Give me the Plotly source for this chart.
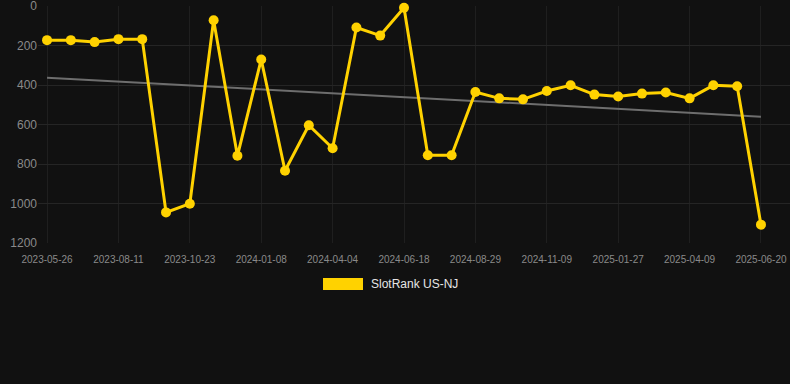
import plotly.graph_objects as go

dates = [
    "2023-05-26", "2023-06-21", "2023-07-16", "2023-08-11", "2023-09-04", "2023-09-28",
    "2023-10-23", "2023-11-18", "2023-12-13", "2024-01-08", "2024-02-06", "2024-03-06",
    "2024-04-04", "2024-04-29", "2024-05-24", "2024-06-18", "2024-07-12", "2024-08-05",
    "2024-08-29", "2024-09-22", "2024-10-16", "2024-11-09", "2024-12-05", "2024-12-31",
    "2025-01-27", "2025-02-20", "2025-03-16", "2025-04-09", "2025-05-03", "2025-05-27",
    "2025-06-20",
]
ranks = [
    172, 172, 182, 167, 167, 1045, 1001, 71, 758, 270, 834, 603, 720, 108, 149, 8,
    755, 755, 435, 467, 472, 430, 401, 448, 458, 443, 437, 467, 401, 406, 1107,
]
tick_labels = dates[::3]
trend_x = [dates[0], dates[-1]]
trend_y = [362, 560]
y_ticks = [0, 200, 400, 600, 800, 1000, 1200]
series_name = "SlotRank US-NJ"

YELLOW = "#FFD200"
BG = "#111111"

fig = go.Figure()
fig.add_trace(go.Scatter(
    x=trend_x, y=trend_y, mode="lines",
    line=dict(color="#6e6e6e", width=2),
    hoverinfo="skip", showlegend=False,
))
fig.add_trace(go.Scatter(
    x=dates, y=ranks, mode="lines+markers", name=series_name,
    line=dict(color=YELLOW, width=3),
    marker=dict(color=YELLOW, size=10),
    cliponaxis=False, showlegend=False,
))

n = len(dates)
fig.update_layout(
    width=790, height=384,
    paper_bgcolor=BG, plot_bgcolor=BG,
    margin=dict(l=38, r=0, t=6, b=141),
    font=dict(family="Liberation Sans, Arial, sans-serif", color="#888888"),
    xaxis=dict(
        type="category", categoryorder="array", categoryarray=dates,
        range=[-0.38, n - 1 + 1.22],
        tickmode="array", tickvals=tick_labels, ticktext=tick_labels,
        tickfont=dict(size=10, color="#8a8a8a"),
        showgrid=True, gridcolor="#1f1f1f", gridwidth=1,
        zeroline=False, showline=False,
        ticks="outside", ticklen=7, tickcolor=BG,
    ),
    yaxis=dict(
        range=[1200, -1],
        tickmode="array", tickvals=y_ticks,
        tickfont=dict(size=12, color="#8a8a8a"),
        showgrid=True, gridcolor="#252525", gridwidth=1,
        zeroline=False, showline=False, ticks="",
        ticklabeloverflow="allow",
    ),
    showlegend=False,
    shapes=[dict(
        type="rect", xref="paper", yref="paper",
        x0=(323 - 38) / 752, x1=(363 - 38) / 752,
        y0=(384 - 141 - 290) / 237, y1=(384 - 141 - 278) / 237,
        fillcolor=YELLOW, line=dict(width=0),
    )],
    annotations=[dict(
        text=series_name, xref="paper", yref="paper",
        x=(369 - 38) / 752, y=(384 - 141 - 284) / 237,
        xanchor="left", yanchor="middle", showarrow=False,
        font=dict(size=12, color="#e6e6e6"),
    )],
)

fig.write_html(
    "out.html",
    config={"displayModeBar": False},
    post_script="document.body.style.margin='0';document.body.style.background='#111111';",
)
